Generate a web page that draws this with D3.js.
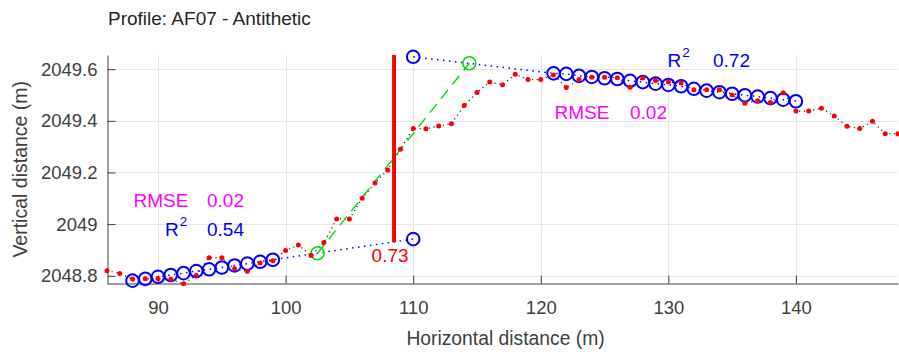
<!DOCTYPE html>
<html>
<head>
<meta charset="utf-8">
<script src="https://cdn.jsdelivr.net/npm/d3@7/dist/d3.min.js"></script>
<style>
  body { margin: 0; background: #fff; }
  svg { display: block; font-family: "Liberation Sans", Arial, Helvetica, sans-serif; }
</style>
</head>
<body>
<svg id="chart" width="899" height="352"></svg>
<script>
// ---- data ----
const profileX = [86,87,88,89,90,91,92,93,94,95,96,97,98,99,100,101,102,103,104,105,106,107,108,109,110,111,112,113,114,115,116,117,118,119,120,121,122,123,124,125,126,127,128,129,130,131,132,133,134,135,136,137,138,139,140,141,142,143,144,145,146,147,148];
const profileY = [2048.819,2048.809,2048.787,2048.788,2048.788,2048.786,2048.769,2048.801,2048.870,2048.870,2048.827,2048.817,2048.849,2048.858,2048.898,2048.919,2048.878,2048.929,2049.020,2049.020,2049.100,2049.159,2049.210,2049.290,2049.370,2049.369,2049.380,2049.389,2049.459,2049.510,2049.550,2049.540,2049.580,2049.560,2049.560,2049.578,2049.529,2049.560,2049.569,2049.569,2049.567,2049.530,2049.566,2049.556,2049.550,2049.547,2049.520,2049.520,2049.520,2049.500,2049.468,2049.478,2049.471,2049.509,2049.438,2049.438,2049.449,2049.419,2049.379,2049.370,2049.398,2049.350,2049.350];

// footwall (lower) fit
const footX = [88,89,90,91,92,93,94,95,96,97,98,99,110];
const footY = [2048.781,2048.788,2048.796,2048.803,2048.810,2048.818,2048.825,2048.832,2048.840,2048.847,2048.854,2048.862,2048.942];
// hanging wall (upper) fit
const hangX = [110,121,122,123,124,125,126,127,128,129,130,131,132,133,134,135,136,137,138,139,140];
const hangY = [2049.648,2049.584,2049.582,2049.574,2049.570,2049.565,2049.562,2049.555,2049.550,2049.544,2049.539,2049.534,2049.524,2049.517,2049.511,2049.505,2049.499,2049.494,2049.488,2049.482,2049.476];
const markerX = [88,89,90,91,92,93,94,95,96,97,98,99,110,121,122,123,124,125,126,127,128,129,130,131,132,133,134,135,136,137,138,139,140];
// scarp fit (green)
const scarpX = [102.5, 114.4];
const scarpY = [2048.887, 2049.623];
// vertical offset
const offsetX = 108.5;
const offsetY = [2048.930, 2049.655];
const offsetLabel = "0.73";

const xTicks = [90,100,110,120,130,140];
const xTickLabels = ["90","100","110","120","130","140"];
const yTicks = [2048.8,2049,2049.2,2049.4,2049.6];
const yTickLabels = ["2048.8","2049","2049.2","2049.4","2049.6"];

const titleText = "Profile: AF07 - Antithetic";
const xLabel = "Horizontal distance (m)";
const yLabel = "Vertical distance (m)";
const leftStats = {rmse: "0.02", r2: "0.54"};
const rightStats = {rmse: "0.02", r2: "0.72"};

// ---- drawing ----
const svg = d3.select("#chart");
const x = d3.scaleLinear().domain([86,148]).range([107,898]);
const y = d3.scaleLinear().domain([2048.77,2049.655]).range([283.5,55]);
const axisColor = "#404040";
const fontSize = 18.5;

// grid
const grid = svg.append("g").attr("stroke","#e6e6e6").attr("stroke-width",1);
grid.selectAll(".gx").data(xTicks).join("line")
  .attr("x1",d=>Math.round(x(d))+0.5).attr("x2",d=>Math.round(x(d))+0.5)
  .attr("y1",y.range()[1]).attr("y2",y.range()[0]);
grid.selectAll(".gy").data(yTicks).join("line")
  .attr("y1",d=>Math.round(y(d))+0.5).attr("y2",d=>Math.round(y(d))+0.5)
  .attr("x1",x.range()[0]).attr("x2",x.range()[1]);

// axes
const xAxis = d3.axisBottom(x).tickValues(xTicks).tickFormat((d,i)=>xTickLabels[i])
  .tickSizeInner(-8).tickSizeOuter(0).tickPadding(17.5);
const yAxis = d3.axisLeft(y).tickValues(yTicks).tickFormat((d,i)=>yTickLabels[i])
  .tickSizeInner(-8).tickSizeOuter(0).tickPadding(10);
const gx = svg.append("g").attr("transform","translate(0,283.5)").call(xAxis);
const gy = svg.append("g").attr("transform","translate(107.5,0)").call(yAxis);
[gx,gy].forEach(g=>{
  g.select(".domain").attr("stroke",axisColor);
  g.selectAll(".tick line").attr("stroke",axisColor);
  g.selectAll(".tick text").attr("fill",axisColor).style("font-size",fontSize+"px")
   .style("font-family","'Liberation Sans', Arial, sans-serif");
});

// profile dotted black line
const line = d3.line().x(d=>x(d[0])).y(d=>y(d[1]));
const prof = profileX.map((v,i)=>[v,profileY[i]]);
svg.append("path").datum(prof).attr("d",line).attr("fill","none")
  .attr("stroke","#222").attr("stroke-width",1.2).attr("stroke-dasharray","1.2,3.5");

// blue fit lines
const foot = footX.map((v,i)=>[v,footY[i]]);
const hang = hangX.map((v,i)=>[v,hangY[i]]);
[foot,hang].forEach(dat=>{
  svg.append("path").datum(dat).attr("d",line).attr("fill","none")
    .attr("stroke","#0000ff").attr("stroke-width",1.5).attr("stroke-dasharray","1.5,4.5");
});
const allFit = foot.concat(hang).filter(d=>markerX.includes(d[0]));
svg.append("g").selectAll("circle").data(allFit).join("circle")
  .attr("cx",d=>x(d[0])).attr("cy",d=>y(d[1])).attr("r",6.3)
  .attr("fill","none").attr("stroke","#0000ff").attr("stroke-width",2);

// green scarp line
const scarp = scarpX.map((v,i)=>[v,scarpY[i]]);
svg.append("path").datum(scarp).attr("d",line).attr("fill","none")
  .attr("stroke","#00e000").attr("stroke-width",1.4).attr("stroke-dasharray","11,7");
svg.append("g").selectAll("circle").data(scarp).join("circle")
  .attr("cx",d=>x(d[0])).attr("cy",d=>y(d[1])).attr("r",6.5)
  .attr("fill","none").attr("stroke","#00e000").attr("stroke-width",1.6);

// red points
svg.append("g").selectAll("circle").data(prof).join("circle")
  .attr("cx",d=>x(d[0])).attr("cy",d=>y(d[1])).attr("r",2.5).attr("fill","#ff0000");

// vertical offset line
svg.append("line").attr("x1",x(offsetX)).attr("x2",x(offsetX))
  .attr("y1",y(offsetY[0])).attr("y2",y(offsetY[1]))
  .attr("stroke","#ff0000").attr("stroke-width",4);
svg.append("text").attr("x",x(offsetX)-4).attr("y",262).attr("text-anchor","middle")
  .attr("fill","#ff0000").style("font-size","19px").text(offsetLabel);

// stats text
function stats(rmseX, rmseY, rX, rY, valX, s){
  svg.append("text").attr("x",rmseX).attr("y",rmseY).attr("fill","#ff00ff")
    .style("font-size","19px").text("RMSE");
  svg.append("text").attr("x",valX).attr("y",rmseY).attr("fill","#ff00ff")
    .style("font-size","19px").text(s.rmse);
  const t = svg.append("text").attr("x",rX).attr("y",rY).attr("fill","#0000ff").style("font-size","19px");
  t.append("tspan").text("R");
  t.append("tspan").attr("dy",-10).attr("dx",1).style("font-size","13.5px").text("2");
  svg.append("text").attr("x",valX).attr("y",rY).attr("fill","#0000ff")
    .style("font-size","19px").text(s.r2);
}
stats(133.5,206.5,165,236,207,leftStats);
// right side
svg.append("text").attr("x",554.5).attr("y",118.5).attr("fill","#ff00ff").style("font-size","19px").text("RMSE");
svg.append("text").attr("x",630).attr("y",118.5).attr("fill","#ff00ff").style("font-size","19px").text(rightStats.rmse);
const tr = svg.append("text").attr("x",667.5).attr("y",66.5).attr("fill","#0000ff").style("font-size","19px");
tr.append("tspan").text("R");
tr.append("tspan").attr("dy",-10).attr("dx",1).style("font-size","13.5px").text("2");
svg.append("text").attr("x",713).attr("y",66.5).attr("fill","#0000ff").style("font-size","19px").text(rightStats.r2);

// labels
svg.append("text").attr("x",108).attr("y",25).attr("fill","#262626").style("font-size","19px").text(titleText);
svg.append("text").attr("x",(x.range()[0]+x.range()[1])/2 + 3).attr("y",345).attr("text-anchor","middle")
  .attr("fill",axisColor).style("font-size","19.3px").text(xLabel);
svg.append("text").attr("transform","translate(27,"+((y.range()[0]+y.range()[1])/2)+") rotate(-90)")
  .attr("text-anchor","middle").attr("fill",axisColor).style("font-size","19.5px").text(yLabel);
</script>
</body>
</html>
